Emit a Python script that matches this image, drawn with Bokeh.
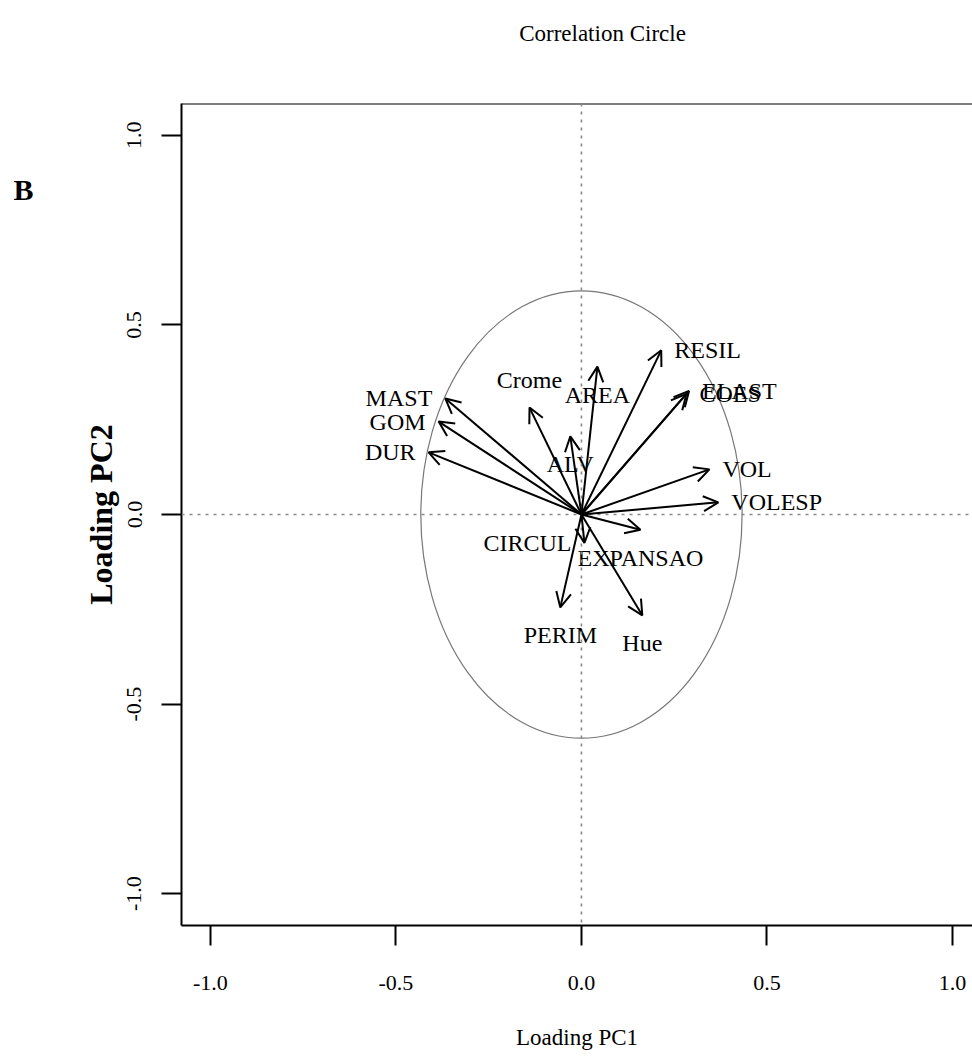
from bokeh.plotting import figure
from bokeh.layouts import row, column
from bokeh.models import (Range1d, FixedTicker, NumeralTickFormatter,
                          Arrow, OpenHead, Span, ColumnDataSource)
from bokeh.core.properties import value
from bokeh.embed import file_html
from bokeh.resources import INLINE

# PCA loadings of each variable on the first two components
variables = ["MAST", "GOM", "DUR", "Crome", "AREA", "ALV", "RESIL", "ELAST",
             "COES", "VOL", "VOLESP", "CIRCUL", "EXPANSAO", "Hue", "PERIM"]
pc1 = [-0.367, -0.385, -0.412, -0.140, 0.043, -0.030, 0.215, 0.290,
       0.283, 0.345, 0.369, 0.008, 0.159, 0.164, -0.057]
pc2 = [0.306, 0.245, 0.164, 0.282, 0.390, 0.206, 0.433, 0.326,
       0.318, 0.119, 0.032, -0.075, -0.040, -0.266, -0.245]
# side of the arrow tip where each name is written (1 below, 2 left, 3 above, 4 right)
label_side = [2, 2, 2, 3, 1, 1, 4, 4, 4, 4, 4, 2, 1, 1, 1]

axis_ticks = [-1.0, -0.5, 0.0, 0.5, 1.0]

# reference ellipse half-axes
circle_rx = 0.433
circle_ry = 0.59

SERIF = "Liberation Serif"
X0, X1 = -1.078, 1.054
Y0, Y1 = -1.084, 1.084

W, H = 972, 1060
HEAD_H = 70     # strip carrying the title
PANEL_W = 50    # strip carrying the panel letter


def text_strip(width, height):
    f = figure(width=width, height=height, x_range=Range1d(0, width),
               y_range=Range1d(height, 0), output_backend="svg", toolbar_location=None,
               x_axis_location=None, y_axis_location=None, min_border=0)
    f.title = None
    f.grid.visible = False
    f.outline_line_color = None
    return f


head = text_strip(W, HEAD_H)
head.text(x=[602], y=[33], text=["Correlation Circle"], text_font=value(SERIF),
          text_font_size="23px", text_align="center", text_baseline="middle",
          text_color="black")

letter = text_strip(PANEL_W, H - HEAD_H)
letter.text(x=[23], y=[174 - HEAD_H], text=["B"], text_font=value(SERIF),
            text_font_style="bold", text_font_size="30px", text_align="center",
            text_baseline="middle", text_color="black")

p = figure(width=W - PANEL_W, height=H - HEAD_H,
           x_range=Range1d(X0, X1), y_range=Range1d(Y0, Y1),
           output_backend="svg", toolbar_location=None,
           min_border_left=181 - PANEL_W, min_border_right=0,
           min_border_top=103 - HEAD_H, min_border_bottom=135)
p.title = None
p.outline_line_color = None
p.grid.visible = False
p.background_fill_color = "white"
p.border_fill_color = "white"

for ax in (p.xaxis[0], p.yaxis[0]):
    ax.ticker = FixedTicker(ticks=axis_ticks)
    ax.formatter = NumeralTickFormatter(format="0.0")
    ax.axis_line_width = 2
    ax.axis_line_color = "black"
    ax.major_tick_line_width = 2
    ax.major_tick_line_color = "black"
    ax.major_tick_in = 0
    ax.major_tick_out = 20
    ax.minor_tick_line_color = None
    ax.major_label_text_font = SERIF
    ax.major_label_text_color = "black"
    ax.axis_label_text_color = "black"

p.xaxis.axis_label = "Loading PC1"
p.xaxis.major_label_text_font_size = "22px"
p.xaxis.major_label_standoff = 30
p.xaxis.axis_label_text_font = SERIF
p.xaxis.axis_label_text_font_size = "23px"
p.xaxis.axis_label_text_font_style = "normal"
p.xaxis.axis_label_standoff = 32

p.yaxis.axis_label = "Loading PC2"
p.yaxis.major_label_orientation = "vertical"
p.yaxis.major_label_text_font_size = "22px"
p.yaxis.major_label_standoff = 20
p.yaxis.axis_label_text_font = SERIF
p.yaxis.axis_label_text_font_size = "32px"
p.yaxis.axis_label_text_font_style = "bold"
p.yaxis.axis_label_standoff = 6

# top border of the box (the right side stays open)
p.add_layout(Span(location=Y1, dimension="width", line_color="black", line_width=2))

# dotted reference lines through the origin
for dim in ("width", "height"):
    p.add_layout(Span(location=0, dimension=dim, line_color="#8a8a8a",
                      line_width=1.6, line_dash="3 5"))

p.ellipse(x=0, y=0, width=2 * circle_rx, height=2 * circle_ry,
          fill_color=None, line_color="#777777", line_width=1.2)

src = ColumnDataSource(dict(x0=[0.0] * len(pc1), y0=[0.0] * len(pc1), x1=pc1, y1=pc2))
p.add_layout(Arrow(source=src, x_start="x0", y_start="y0", x_end="x1", y_end="y1",
                   line_color="black", line_width=2,
                   end=OpenHead(size=15, line_color="black", line_width=2)))

# name placement around each arrow tip
xo, yo, al, bl = [], [], [], []
for s in label_side:
    if s == 1:
        xo.append(0); yo.append(15); al.append("center"); bl.append("top")
    elif s == 2:
        xo.append(-13); yo.append(0); al.append("right"); bl.append("middle")
    elif s == 3:
        xo.append(0); yo.append(-15); al.append("center"); bl.append("bottom")
    else:
        xo.append(13); yo.append(0); al.append("left"); bl.append("middle")
lab = ColumnDataSource(dict(x=pc1, y=pc2, text=variables, xo=xo, yo=yo, al=al, bl=bl))
p.text(x="x", y="y", text="text", source=lab, x_offset="xo", y_offset="yo",
       text_align="al", text_baseline="bl", text_font=value(SERIF),
       text_font_size="24px", text_color="black")

layout = column(head, row(letter, p, spacing=0), spacing=0)
open("out.html", "w").write(file_html(layout, INLINE))
